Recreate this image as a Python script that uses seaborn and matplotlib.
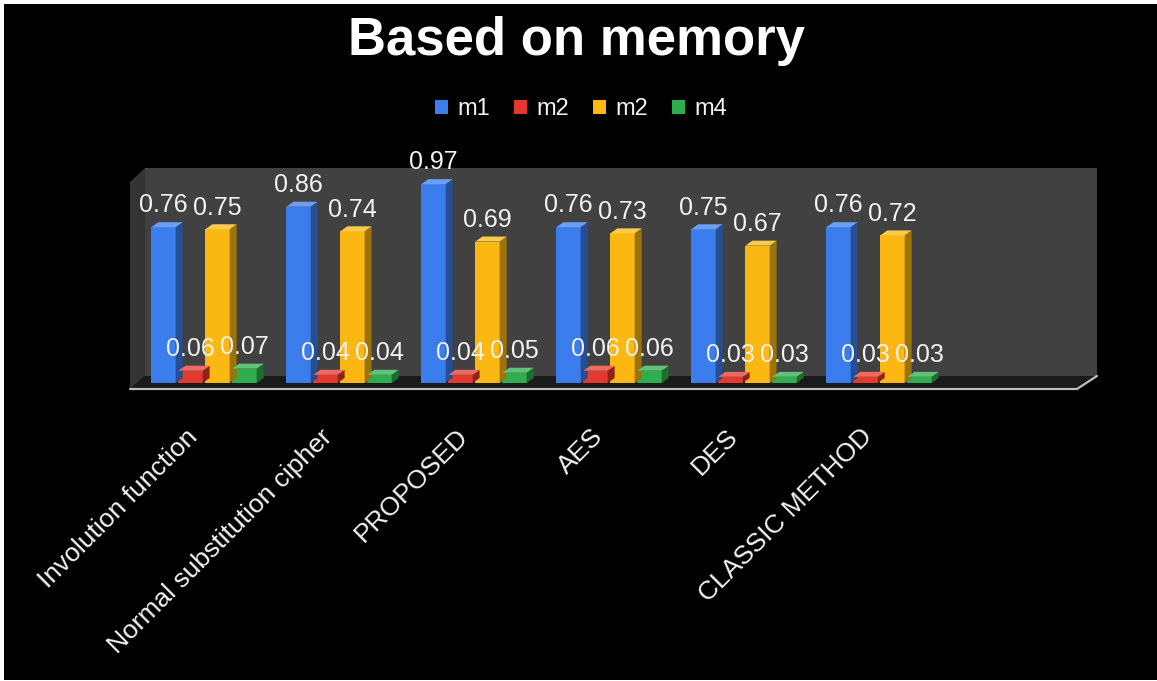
import numpy as np
import pandas as pd
import matplotlib
matplotlib.use("Agg")
import matplotlib.pyplot as plt
from matplotlib.patches import Polygon, Rectangle
from matplotlib.transforms import ScaledTranslation
from matplotlib.colors import to_rgb
import seaborn as sns

# ---- data -------------------------------------------------------------
methods = ["Involution function", "Normal substitution cipher", "PROPOSED",
           "AES", "DES", "CLASSIC METHOD"]
series_keys = ["s1", "s2", "s3", "s4"]
series_labels = ["m1", "m2", "m2", "m4"]
values_m1 = [0.76, 0.86, 0.97, 0.76, 0.75, 0.76]
values_m2 = [0.06, 0.04, 0.04, 0.06, 0.03, 0.03]
values_m3 = [0.75, 0.74, 0.69, 0.73, 0.67, 0.72]
values_m4 = [0.07, 0.04, 0.05, 0.06, 0.03, 0.03]
colors = ["#3b7ded", "#e43a2d", "#fbb812", "#2eae4e"]

df = pd.DataFrame({
    "method": methods * 4,
    "series": np.repeat(series_keys, len(methods)),
    "value": values_m1 + values_m2 + values_m3 + values_m4,
})

# ---- figure -----------------------------------------------------------
sns.set_theme(style="white")
plt.rcParams["font.family"] = ["Liberation Sans", "DejaVu Sans"]
TXT = "#f2f2f2"

W, H = 1157, 681
fig = plt.figure(figsize=(W / 100, H / 100), dpi=100, facecolor="white")


def px(x, y):
    return (x / W, 1 - y / H)


# black canvas inside a thin white frame
fig.patches.append(Rectangle(px(4, 680), 1 - 4 / W, (680 - 4) / H,
                             transform=fig.transFigure, facecolor="black",
                             edgecolor="none", zorder=-5))

# 3-D box: back wall, left wall, floor and its front edge
box_parts = [
    ([(145, 168), (1097, 168), (1097, 376), (145, 376)], "#414141"),
    ([(130, 182), (145, 168), (145, 376), (130, 389)], "#343434"),
    ([(130, 389), (145, 376), (1097, 376), (1077, 389)], "#1a1a1a"),
]
for pts, col in box_parts:
    fig.patches.append(Polygon([px(*p) for p in pts], closed=True,
                               transform=fig.transFigure, facecolor=col,
                               edgecolor="none", zorder=-4))
fig.lines.append(plt.Line2D([px(130, 389)[0], px(1077, 389)[0], px(1097, 376)[0]],
                            [px(130, 389)[1], px(1077, 389)[1], px(1097, 376)[1]],
                            transform=fig.transFigure, color="#bdbdbd",
                            lw=1.6, zorder=-3))

ax = fig.add_axes([136.5 / W, (H - 383) / H, 945 / W, 205 / H])
ax.patch.set_visible(False)

sns.barplot(data=df, x="method", y="value", hue="series", order=methods,
            hue_order=series_keys, palette=dict(zip(series_keys, colors)),
            width=0.8, gap=0.1, saturation=1, edgecolor="none",
            legend=False, ax=ax, zorder=3)

ax.set_xlim(-0.5, 6.5)
ax.set_ylim(0, 1.0)
ax.set_xlabel("")
ax.set_ylabel("")
ax.set_yticks([])
for s in ax.spines.values():
    s.set_visible(False)

# give each bar a side face and a top face
DX, DY = 7, 5
inv = ax.transData.inverted()


def shade(c, f):
    r = np.array(to_rgb(c))
    return tuple(r * f) if f < 1 else tuple(r + (1 - r) * (f - 1))


for cont, col in zip(ax.containers, colors):
    for bar in cont:
        x0, w, h = bar.get_x(), bar.get_width(), bar.get_height()
        (a0, b0), (a1, b1) = ax.transData.transform([(x0, 0), (x0 + w, h)])
        side = [(a1, b0), (a1 + DX, b0 + DY), (a1 + DX, b1 + DY), (a1, b1)]
        top = [(a0, b1), (a0 + DX, b1 + DY), (a1 + DX, b1 + DY), (a1, b1)]
        for pts, fc in ((side, shade(col, 0.62)), (top, shade(col, 1.25))):
            ax.add_patch(Polygon(inv.transform(pts), closed=True,
                                 facecolor=fc, edgecolor="none",
                                 clip_on=False, zorder=3))
    ax.bar_label(cont, fmt="%.2f", padding=7, color=TXT, fontsize=18,
                 zorder=5)

# category labels
ax.set_xticks(range(len(methods)))
ax.set_xticklabels(methods, rotation=45, ha="right", va="center",
                   rotation_mode="anchor", fontsize=19, color=TXT)
ax.tick_params(axis="x", length=0, pad=36)
shift = ScaledTranslation(-0.10, 0, fig.dpi_scale_trans)
for lab in ax.get_xticklabels():
    lab.set_transform(lab.get_transform() + shift)

# title and legend
fig.text(577 / W, 1 - 55 / H, "Based on memory", ha="center",
         va="baseline", fontsize=38, fontweight="bold", color="white")
handles = [Rectangle((0, 0), 1, 1, facecolor=c, edgecolor="none")
           for c in colors]
fig.legend(handles, series_labels, loc="center",
           bbox_to_anchor=(581 / W, 1 - 109 / H), ncol=4, frameon=False,
           fontsize=17, labelcolor=TXT, handlelength=0.55, handleheight=0.55,
           handletextpad=0.4, columnspacing=1.0)

fig.savefig("out.png", dpi=100, facecolor=fig.get_facecolor())
